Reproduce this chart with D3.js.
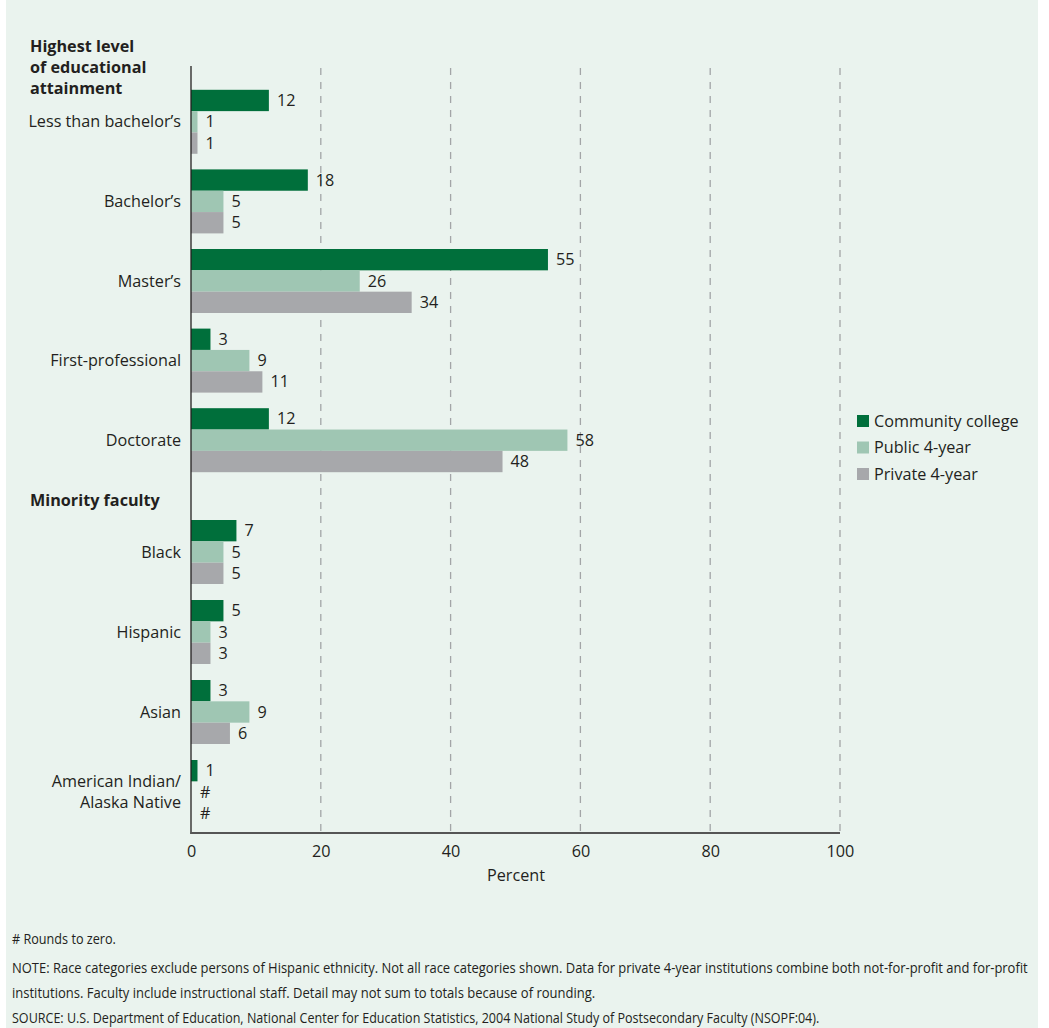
<!DOCTYPE html>
<html><head><meta charset="utf-8">
<script src="https://cdn.jsdelivr.net/npm/d3@7"></script>
<style>body{margin:0;background:#fff}svg{display:block}text{font-family:"Open Sans","Noto Sans",sans-serif;fill:#231f20}</style>
</head><body><svg id="c" width="1049" height="1028"></svg>
<script>
const series = ["Community college", "Public 4-year", "Private 4-year"];
const colors = ["#006f3b", "#9fc6b3", "#a7a8ab"];
const educCategories = ["Less than bachelor’s", "Bachelor’s", "Master’s", "First-professional", "Doctorate"];
const educCC = [12, 18, 55, 3, 12];
const educPublic = [1, 5, 26, 9, 58];
const educPrivate = [1, 5, 34, 11, 48];
const raceCategories = ["Black", "Hispanic", "Asian", "American Indian/\nAlaska Native"];
const raceCC = [7, 5, 3, 1];
const racePublic = [5, 3, 9, 0];
const racePrivate = [5, 3, 6, 0];
const xTicks = [0, 20, 40, 60, 80, 100];
const notes = [
  "# Rounds to zero.",
  "NOTE: Race categories exclude persons of Hispanic ethnicity. Not all race categories shown. Data for private 4-year institutions combine both not-for-profit and for-profit",
  "institutions. Faculty include instructional staff. Detail may not sum to totals because of rounding.",
  "SOURCE: U.S. Department of Education, National Center for Education Statistics, 2004 National Study of Postsecondary Faculty (NSOPF:04)."
];

const FS = 16.2;
const svg = d3.select("#c");
svg.append("rect").attr("x", 6).attr("y", 0).attr("width", 1032).attr("height", 1028).attr("fill", "#eaf3ee");

const x = d3.scaleLinear().domain([0, 100]).range([191, 840]);
const y1 = d3.scaleBand().domain(educCategories).range([82, 480]);
const y2 = d3.scaleBand().domain(raceCategories).range([512, 832]);
const inner = d3.scaleBand().domain(series).range([-32, 32]);

// gridlines
svg.append("g").selectAll("line").data(xTicks.slice(1)).join("line")
  .attr("x1", d => x(d)).attr("x2", d => x(d)).attr("y1", 68).attr("y2", 833)
  .attr("stroke", "#a3a5a7").attr("stroke-width", 1.3).attr("stroke-dasharray", "7,7");

function drawSection(cats, vals, ys) {
  cats.forEach((cat, i) => {
    const cy = ys(cat) + ys.bandwidth() / 2;
    const lines = cat.split("\n");
    const t = svg.append("text").attr("text-anchor", "end").attr("font-size", FS)
      .attr("x", 181).attr("y", cy + 5.5 - (lines.length - 1) * 10.5);
    lines.forEach((l, k) => t.append("tspan").attr("x", 181).attr("dy", k ? 21 : 0).text(l));
    series.forEach((s, j) => {
      const v = vals[j][i];
      const by = cy + inner(s);
      svg.append("rect").attr("x", x(0)).attr("y", by).attr("width", x(v) - x(0))
        .attr("height", inner.bandwidth()).attr("fill", colors[j]);
      svg.append("text").attr("font-size", FS).attr("x", x(v) + (v === 0 ? 9 : 8))
        .attr("y", by + inner.bandwidth() / 2 + 5.5).text(v === 0 ? "#" : v);
    });
  });
}
drawSection(educCategories, [educCC, educPublic, educPrivate], y1);
drawSection(raceCategories, [raceCC, racePublic, racePrivate], y2);

// axes
svg.append("line").attr("x1", 191).attr("x2", 191).attr("y1", 66).attr("y2", 834)
  .attr("stroke", "#231f20").attr("stroke-width", 1.3);
svg.append("line").attr("x1", 190.5).attr("x2", 840).attr("y1", 833).attr("y2", 833)
  .attr("stroke", "#555").attr("stroke-width", 2);
const xAxis = svg.append("g").attr("transform", "translate(0,833)")
  .call(d3.axisBottom(x).tickValues(xTicks).tickSize(0).tickPadding(12));
xAxis.select(".domain").remove();
xAxis.selectAll("text").attr("font-size", FS).attr("fill", "#231f20")
  .style("font-family", '"Open Sans","Noto Sans",sans-serif');
svg.append("text").attr("x", 516).attr("y", 881).attr("text-anchor", "middle").attr("font-size", FS).text("Percent");

// headers
const h = svg.append("text").attr("font-size", FS).attr("font-weight", "bold").attr("x", 30).attr("y", 52);
["Highest level", "of educational", "attainment"].forEach((l, k) => h.append("tspan").attr("x", 30).attr("dy", k ? 21 : 0).text(l));
svg.append("text").attr("font-size", FS).attr("font-weight", "bold").attr("x", 30).attr("y", 506).text("Minority faculty");

// legend
series.forEach((s, j) => {
  const ly = 421 + j * 26.5;
  svg.append("rect").attr("x", 857).attr("y", ly - 6).attr("width", 12).attr("height", 12).attr("fill", colors[j]);
  svg.append("text").attr("x", 874).attr("y", ly + 5.5).attr("font-size", FS).text(s);
});

// notes (condensed by horizontal scaling to match the narrow source face)
const noteY = [944, 973, 998, 1023];
const noteW = [104, 1016, 584, 808];
notes.forEach((n, k) => {
  const g = svg.append("g");
  const t = g.append("text").attr("x", 0).attr("y", 0).attr("font-size", 14.5).text(n);
  const w = t.node().getComputedTextLength();
  g.attr("transform", `translate(12,${noteY[k]}) scale(${noteW[k] / w},1)`);
});
</script></body></html>
